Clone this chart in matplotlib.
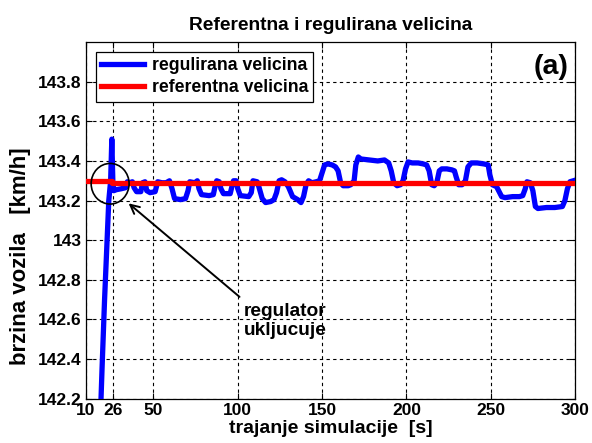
import matplotlib
matplotlib.use("Agg")
import matplotlib.pyplot as plt
from matplotlib.patches import Ellipse

plt.rcParams['font.family'] = ['Liberation Sans', 'DejaVu Sans']
plt.rcParams['font.weight'] = 'bold'

# regulated value (blue)
t_reg = [18.5, 19.5, 21.0, 22.5, 23.5, 24.6, 25.3, 25.9, 26.5, 28.0, 31.0, 33.5, 34.5, 36.0,
         37.5, 38.5, 40.0, 42.5, 43.5, 45.0, 46.0, 48.0, 51.0, 52.5, 55.0, 57.5, 59.5, 61.0,
         62.5, 66.0, 69.0, 70.5, 71.5, 74.5, 76.0, 77.0, 78.5, 83.0, 85.5, 86.5, 87.5, 89.0,
         90.0, 91.5, 95.5, 96.5, 97.5, 99.0, 100.0, 101.5, 106.5, 108.0, 109.0, 111.5, 112.5,
         114.5, 116.5, 119.5, 121.5, 123.0, 124.5, 126.0, 128.0, 130.0, 132.5, 135.5, 137.5,
         139.0, 140.5, 142.0, 144.0, 146.5, 148.5, 150.0, 151.5, 153.5, 156.0, 158.0, 159.5,
         161.0, 162.5, 165.5, 167.0, 169.0, 170.0, 171.5, 173.0, 178.0, 183.0, 187.0, 189.5,
         191.0, 192.5, 194.5, 196.5, 198.0, 199.5, 201.0, 203.5, 207.0, 210.0, 212.0, 213.5,
         215.0, 216.5, 218.0, 219.5, 221.0, 224.0, 227.0, 228.5, 229.5, 231.0, 233.0, 235.0,
         236.5, 238.5, 242.0, 246.0, 248.5, 249.5, 251.0, 253.5, 255.0, 256.5, 258.5, 263.0,
         267.0, 269.0, 270.5, 271.5, 273.5, 275.0, 276.5, 278.0, 283.0, 288.0, 292.5, 294.0,
         295.5, 297.0, 299.0]
v_reg = [142.10, 142.35, 142.70, 143.00, 143.20, 143.30, 143.51, 143.30, 143.25, 143.255, 143.26,
         143.265, 143.295, 143.29, 143.295, 143.265, 143.245, 143.245, 143.29, 143.295, 143.25,
         143.24, 143.245, 143.295, 143.29, 143.29, 143.30, 143.26, 143.21, 143.205, 143.21,
         143.25, 143.295, 143.29, 143.30, 143.26, 143.23, 143.225, 143.23, 143.27, 143.30,
         143.295, 143.26, 143.235, 143.235, 143.27, 143.30, 143.30, 143.26, 143.225, 143.22,
         143.24, 143.30, 143.295, 143.27, 143.21, 143.19, 143.195, 143.205, 143.24, 143.30,
         143.305, 143.295, 143.27, 143.22, 143.205, 143.19, 143.22, 143.28, 143.30, 143.29,
         143.295, 143.30, 143.34, 143.38, 143.385, 143.38, 143.37, 143.35, 143.29, 143.275,
         143.275, 143.28, 143.30, 143.38, 143.42, 143.41, 143.405, 143.40, 143.405, 143.39,
         143.35, 143.29, 143.275, 143.28, 143.30, 143.36, 143.395, 143.39, 143.39, 143.385,
         143.38, 143.35, 143.28, 143.275, 143.29, 143.35, 143.36, 143.36, 143.355, 143.35,
         143.32, 143.28, 143.28, 143.30, 143.37, 143.39, 143.39, 143.385, 143.38, 143.33,
         143.28, 143.27, 143.245, 143.22, 143.215, 143.22, 143.22, 143.225, 143.26, 143.295,
         143.29, 143.25, 143.17, 143.16, 143.165, 143.165, 143.17, 143.20, 143.26, 143.295,
         143.30]

# reference value (red)
t_ref = [10, 25.3, 25.3, 300]
v_ref = [143.30, 143.30, 143.29, 143.29]

x_ticks = [10, 26, 50, 100, 150, 200, 250, 300]
y_ticks = [142.2, 142.4, 142.6, 142.8, 143.0, 143.2, 143.4, 143.6, 143.8]
y_labels = ['142.2', '142.4', '142.6', '142.8', '143', '143.2', '143.4', '143.6', '143.8']

fig = plt.figure(figsize=(5.92, 4.43), dpi=100)
ax = fig.add_axes([0.1453, 0.1, 0.8260, 0.805])

ax.plot(t_reg, v_reg, color='#0000ff', lw=3.8, label='regulirana velicina', zorder=3)
ax.plot(t_ref, v_ref, color='#ff0000', lw=3.8, label='referentna velicina', zorder=4)

ax.set_xlim(10, 300)
ax.set_ylim(142.2, 144.0)
ax.set_xticks(x_ticks)
ax.set_xticklabels([str(v) for v in x_ticks])
ax.set_yticks(y_ticks)
ax.set_yticklabels(y_labels)
ax.tick_params(direction='in', labelsize=12.5, length=4, width=0.8, colors='black',
               top=True, right=True)
ax.tick_params(axis='x', pad=3)
ax.tick_params(axis='y', pad=3)
for lab in ax.get_xticklabels() + ax.get_yticklabels():
    lab.set_fontweight('bold')
ax.grid(True, color='black', linestyle=(0, (3, 3)), linewidth=0.8)
for s in ax.spines.values():
    s.set_color('black')
    s.set_linewidth(0.9)

ax.set_title('Referentna i regulirana velicina', fontsize=13.8, fontweight='bold', pad=9)
ax.set_xlabel('trajanje simulacije  [s]', fontsize=14, fontweight='bold')
ax.xaxis.label.set_verticalalignment('baseline')
ax.xaxis.set_label_coords(0.5, -0.097)
ax.set_ylabel('brzina vozila   [km/h]', fontsize=16, fontweight='bold')
ax.yaxis.set_label_coords(-0.112, 0.40)

leg = ax.legend(loc='upper left', bbox_to_anchor=(0.0204, 0.973), borderaxespad=0,
                fontsize=12.7, frameon=True, fancybox=False, edgecolor='black',
                framealpha=1, handlelength=2.45, borderpad=0.3, labelspacing=0.3,
                handletextpad=0.4)
leg.get_frame().set_linewidth(0.9)
for txt in leg.get_texts():
    txt.set_fontweight('bold')

ax.text(0.9857, 0.93, '(a)', transform=ax.transAxes, ha='right', va='center',
        fontsize=20.5, fontweight='bold')

# circle and annotation
ax.add_patch(Ellipse((24.3, 143.285), width=22.5, height=0.205, fill=False,
                     edgecolor='black', lw=1.2, zorder=5))
ax.annotate('', xy=(34.0, 143.195), xytext=(102.3, 142.705),
            arrowprops=dict(arrowstyle='->', color='black', lw=1.4, mutation_scale=16))
ax.text(128.3, 142.685, 'regulator\nukljucuje', ha='center', va='top', fontsize=13.8,
        fontweight='bold', linespacing=1.15)

fig.savefig('out.png', dpi=100, facecolor='white')
